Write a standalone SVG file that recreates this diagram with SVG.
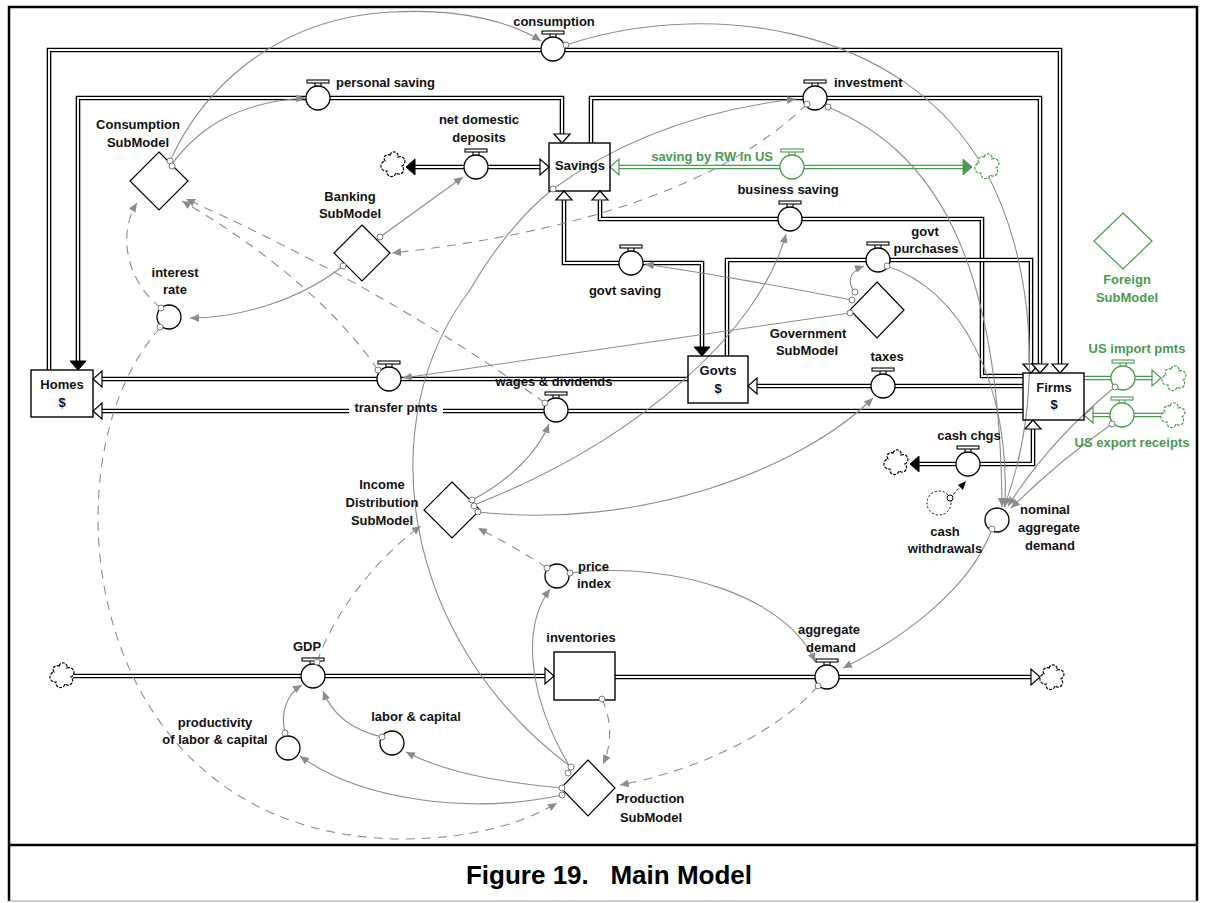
<svg xmlns="http://www.w3.org/2000/svg" xmlns:xlink="http://www.w3.org/1999/xlink" width="1206" height="903" viewBox="0 0 1206 903">
<style>
.lbl{font-family:"Liberation Sans",Arial,sans-serif;font-weight:bold;font-size:13px;fill:#111}
.grn{fill:#4a9a50}
.mid{text-anchor:middle}
.end{text-anchor:end}
.po{fill:none;stroke:#000;stroke-width:4.6;stroke-linejoin:miter;stroke-linecap:butt}
.pi{fill:none;stroke:#fff;stroke-width:1.9;stroke-linejoin:miter;stroke-linecap:butt}
.pog{fill:none;stroke:#4a9a50;stroke-width:4.6;stroke-linecap:butt}
.c{fill:none;stroke:#8c8c8c;stroke-width:1.1;marker-end:url(#ca)}
.d{fill:none;stroke:#8c8c8c;stroke-width:1.1;stroke-dasharray:9 7;marker-end:url(#ca)}
.o{fill:#fff;stroke:#7a7a7a;stroke-width:1}
.box{fill:none;stroke:#000;stroke-width:1.4}
.dia{fill:none;stroke:#000;stroke-width:1.2}
.diag{fill:none;stroke:#4a9a50;stroke-width:1.2}
.ahh{fill:#fff;stroke:currentColor;stroke-width:1.2}
.ahs{fill:currentColor;stroke:currentColor;stroke-width:1}
</style>
<defs>
<marker id="ca" markerUnits="userSpaceOnUse" markerWidth="10" markerHeight="8" refX="9" refY="4" orient="auto"><path d="M0,0 L9,4 L0,8 Z" fill="#8c8c8c"/></marker>
<path id="ah" d="M0,0 L-9,-8 L-9,8 Z"/>
<g id="valve">
<rect x="-11" y="-18" width="22" height="3" fill="#fff" stroke="currentColor" stroke-width="1.1"/>
<path d="M-3,-15 V-12 M3,-15 V-12" stroke="currentColor" stroke-width="1.1"/>
<circle r="12" fill="#fff" stroke="currentColor" stroke-width="1.3"/>
</g>
<path id="cloud" d="M-3,-9 A4,4 0 0 1 5,-7 A4,4 0 0 1 9,2 A4,4 0 0 1 3,9 A4,4 0 0 1 -6,7 A4,4 0 0 1 -8,-3 A4,4 0 0 1 -3,-9 Z" fill="#fff" stroke="currentColor" stroke-width="1.2" stroke-dasharray="3 1.2"/>
<path id="pp-cons" d="M49,370 V50 H1060 V364"/>
<path id="pp-pers" d="M78,361 V98 H562 V134"/>
<path id="pp-inv" d="M591,143 V98 H1040 V364"/>
<path id="pp-ndd" d="M415,167 H540"/>
<path id="pp-rw" d="M619,167 H963"/>
<path id="pp-bs" d="M1023,376 H982 V219 H600 V200"/>
<path id="pp-gs" d="M702,347 V263 H564 V200"/>
<path id="pp-gp" d="M727,356 V260 H1031 V364"/>
<path id="pp-tax" d="M1023,386 H757"/>
<path id="pp-tr" d="M688,379 H102"/>
<path id="pp-wd" d="M1023,411 H443 M349,411 H102"/>
<path id="pp-cash" d="M919,464 H1033 V429"/>
<path id="pp-imp" d="M1084,378 H1152"/>
<path id="pp-exp" d="M1162,415 H1093"/>
<path id="pp-gdp" d="M73,676 H545"/>
<path id="pp-ad" d="M615,677 H1031"/>
</defs>
<rect width="1206" height="903" fill="#fff"/>
<g id="frame">
<path d="M9,901 V7 H1197 V901" fill="none" stroke="#000" stroke-width="2.5"/>
<path d="M9,901 H1197" stroke="#999" stroke-width="1"/>
<path d="M9,845 H1197" stroke="#000" stroke-width="2.5"/>
<text x="609" y="884" text-anchor="middle" xml:space="preserve" style="font-family:'Liberation Sans',Arial,sans-serif;font-weight:bold;font-size:26px;fill:#000">Figure 19.   Main Model</text>
</g>
<g id="connectors">
<g id="pipes">
<use href="#pp-cons" class="po"/><use href="#pp-cons" class="pi"/>
<use href="#pp-pers" class="po"/><use href="#pp-pers" class="pi"/>
<use href="#pp-inv" class="po"/><use href="#pp-inv" class="pi"/>
<use href="#pp-ndd" class="po"/><use href="#pp-ndd" class="pi"/>
<use href="#pp-rw" class="pog"/><use href="#pp-rw" class="pi"/>
<use href="#pp-bs" class="po"/><use href="#pp-bs" class="pi"/>
<use href="#pp-gs" class="po"/><use href="#pp-gs" class="pi"/>
<use href="#pp-gp" class="po"/><use href="#pp-gp" class="pi"/>
<use href="#pp-tax" class="po"/><use href="#pp-tax" class="pi"/>
<use href="#pp-tr" class="po"/><use href="#pp-tr" class="pi"/>
<use href="#pp-wd" class="po"/><use href="#pp-wd" class="pi"/>
<use href="#pp-cash" class="po"/><use href="#pp-cash" class="pi"/>
<use href="#pp-imp" class="pog"/><use href="#pp-imp" class="pi"/>
<use href="#pp-exp" class="pog"/><use href="#pp-exp" class="pi"/>
<use href="#pp-gdp" class="po"/><use href="#pp-gdp" class="pi"/>
<use href="#pp-ad" class="po"/><use href="#pp-ad" class="pi"/>
</g>
<g id="pipe-arrows" style="color:#000">
<use href="#ah" class="ahh" transform="translate(562,143) rotate(90)"/>
<use href="#ah" class="ahh" transform="translate(1031,373) rotate(90)"/>
<use href="#ah" class="ahh" transform="translate(1040,373) rotate(90)"/>
<use href="#ah" class="ahh" transform="translate(1060,373) rotate(90)"/>
<use href="#ah" class="ahh" transform="translate(549,167)"/>
<use href="#ah" class="ahh" transform="translate(600,191) rotate(270)"/>
<use href="#ah" class="ahh" transform="translate(564,191) rotate(270)"/>
<use href="#ah" class="ahh" transform="translate(748,386) rotate(180)"/>
<use href="#ah" class="ahh" transform="translate(93,379) rotate(180)"/>
<use href="#ah" class="ahh" transform="translate(93,411) rotate(180)"/>
<use href="#ah" class="ahh" transform="translate(1033,420) rotate(270)"/>
<use href="#ah" class="ahh" transform="translate(554,676)"/>
<use href="#ah" class="ahh" transform="translate(1040,677)"/>
<use href="#ah" class="ahs" transform="translate(78,370) rotate(90)"/>
<use href="#ah" class="ahs" transform="translate(406,167) rotate(180)"/>
<use href="#ah" class="ahs" transform="translate(702,356) rotate(90)"/>
<use href="#ah" class="ahs" transform="translate(910,464) rotate(180)"/>
<g style="color:#4a9a50">
<use href="#ah" class="ahh" transform="translate(610,167) rotate(180)"/>
<use href="#ah" class="ahs" transform="translate(972,167)"/>
<use href="#ah" class="ahh" transform="translate(1161,378)"/>
<use href="#ah" class="ahh" transform="translate(1084,415) rotate(180)"/>
</g>
</g>
<g id="links">
<path class="c" d="M170,161 C200,95 270,18 392,12 C465,8 515,24 541,41"/>
<path class="c" d="M172,164 C200,126 240,102 305,98"/>
<path class="c" d="M566,45 C700,0 900,20 985,170 C1035,260 1045,400 1004,507"/>
<path class="c" d="M828,107 C930,150 1000,250 1002,507"/>
<path class="c" d="M887,266 C960,290 1010,380 1005,507"/>
<path class="c" d="M1115,387 Q1050,440 1008,506"/>
<path class="c" d="M1112,424 Q1060,460 1011,508"/>
<path class="c" d="M992,529 C970,590 900,640 843,668"/>
<path class="c" d="M570,573 C680,560 790,600 815,662"/>
<path class="c" d="M570,767 C530,700 520,630 550,589"/>
<path class="c" d="M571,767 C400,640 370,420 470,290 C490,255 520,215 553,189 C620,140 700,110 796,99"/>
<path class="c" d="M562,788 C510,783 450,775 406,752"/>
<path class="c" d="M562,795 C470,815 360,800 300,756"/>
<path class="c" d="M382,737 C352,730 332,714 323,691"/>
<path class="c" d="M285,733 C280,712 287,694 302,685"/>
<path class="c" d="M472,500 C510,480 538,452 549,424"/>
<path class="c" d="M474,505 C640,440 760,330 786,234"/>
<path class="c" d="M478,512 C640,530 800,470 873,398"/>
<path class="c" d="M855,292 C846,282 850,271 864,266"/>
<path class="c" d="M852,300 Q750,280 645,264"/>
<path class="c" d="M850,313 L403,378"/>
<path class="c" d="M380,237 L463,177"/>
<path class="c" d="M343,266 C300,300 240,318 190,318"/>
<path class="d" d="M161,308 C125,280 118,232 137,203"/>
<path class="d" d="M378,370 C330,300 250,240 182,201"/>
<path class="d" d="M545,403 C430,320 300,250 186,199"/>
<path class="d" d="M807,104 C720,190 560,235 392,253"/>
<path class="d" d="M160,328 C40,460 80,840 407,839 C470,838 520,825 557,803"/>
<path class="d" d="M317,662 C335,610 380,555 421,526"/>
<path class="d" d="M547,568 C520,550 500,540 478,528"/>
<path class="d" d="M602,699 C612,720 612,745 603,764"/>
<path class="d" d="M818,686 C780,730 700,770 620,785"/>
<path d="M950,498 L962,485" fill="none" stroke="#000" stroke-width="1" stroke-dasharray="3 2"/>
<path d="M958,485 L966,481 L963,490 Z" fill="#000"/>
</g>
</g>
<g id="n-homes"><rect class="box" x="31" y="370" width="62" height="47"/><text class="lbl mid" x="62" y="389">Homes</text><text class="lbl mid" x="62" y="407">$</text></g>
<g id="n-savings"><rect class="box" x="549" y="143" width="61" height="48"/><text class="lbl mid" x="580" y="170">Savings</text></g>
<g id="n-govts"><rect class="box" x="688" y="356" width="60" height="47"/><text class="lbl mid" x="718" y="375">Govts</text><text class="lbl mid" x="718" y="393">$</text></g>
<g id="n-firms"><rect class="box" x="1023" y="373" width="61" height="47"/><text class="lbl mid" x="1054" y="392">Firms</text><text class="lbl mid" x="1054" y="409">$</text></g>
<g id="n-inventories"><rect class="box" x="554" y="652" width="61" height="48"/><text class="lbl mid" x="581" y="642">inventories</text></g>
<g id="n-consumption-sub"><polygon class="dia" points="159,152 188,181 159,210 130,181"/><text class="lbl mid" x="138" y="129">Consumption</text><text class="lbl mid" x="138" y="147">SubModel</text></g>
<g id="n-banking-sub"><polygon class="dia" points="362,225 390,253 362,281 334,253"/><text class="lbl mid" x="350" y="201">Banking</text><text class="lbl mid" x="350" y="218">SubModel</text></g>
<g id="n-government-sub"><polygon class="dia" points="877,282 904,310 877,338 850,310"/><text class="lbl mid" x="808" y="338">Government</text><text class="lbl mid" x="807" y="355">SubModel</text></g>
<g id="n-foreign-sub"><polygon class="diag" points="1123,213 1152,241 1123,269 1094,241"/><text class="lbl mid grn" x="1127" y="284">Foreign</text><text class="lbl mid grn" x="1127" y="302">SubModel</text></g>
<g id="n-income-sub"><polygon class="dia" points="452,482 480,510 452,538 424,510"/><text class="lbl mid" x="382" y="489">Income</text><text class="lbl mid" x="382" y="507">Distribution</text><text class="lbl mid" x="382" y="525">SubModel</text></g>
<g id="n-production-sub"><polygon class="dia" points="588,760 615,788 588,816 561,788"/><text class="lbl mid" x="650" y="803">Production</text><text class="lbl mid" x="651" y="822">SubModel</text></g>
<g id="n-consumption" style="color:#000"><use href="#valve" x="553" y="49"/><text class="lbl mid" x="554" y="26">consumption</text></g>
<g id="n-personal-saving" style="color:#000"><use href="#valve" x="318" y="98"/><text class="lbl" x="336" y="87">personal saving</text></g>
<g id="n-net-domestic-deposits" style="color:#000"><use href="#cloud" x="393" y="164"/><use href="#valve" x="476" y="167"/><text class="lbl mid" x="479" y="124">net domestic</text><text class="lbl mid" x="479" y="142">deposits</text></g>
<g id="n-investment" style="color:#000"><use href="#valve" x="815" y="98"/><text class="lbl" x="834" y="87">investment</text></g>
<g id="n-saving-rw" style="color:#4a9a50"><use href="#valve" x="792" y="167"/><use href="#cloud" x="987" y="166"/><text class="lbl end grn" x="773" y="161">saving by RW in US</text></g>
<g id="n-business-saving" style="color:#000"><use href="#valve" x="790" y="219"/><text class="lbl mid" x="788" y="194">business saving</text></g>
<g id="n-govt-saving" style="color:#000"><use href="#valve" x="631" y="263"/><text class="lbl mid" x="625" y="295">govt saving</text></g>
<g id="n-govt-purchases" style="color:#000"><use href="#valve" x="878" y="260"/><text class="lbl mid" x="925" y="236">govt</text><text class="lbl mid" x="926" y="253">purchases</text></g>
<g id="n-taxes" style="color:#000"><use href="#valve" x="883" y="386"/><text class="lbl mid" x="887" y="361">taxes</text></g>
<g id="n-transfer-pmts" style="color:#000"><use href="#valve" x="389" y="379"/><text class="lbl mid" x="396" y="412">transfer pmts</text></g>
<g id="n-wages-dividends" style="color:#000"><use href="#valve" x="556" y="410"/><text class="lbl mid" x="554" y="386">wages &amp; dividends</text></g>
<g id="n-cash-chgs" style="color:#000"><use href="#cloud" x="896" y="462"/><use href="#valve" x="968" y="464"/><text class="lbl mid" x="969" y="440">cash chgs</text></g>
<g id="n-us-import" style="color:#4a9a50"><use href="#valve" x="1123" y="378"/><use href="#cloud" x="1174" y="378"/><text class="lbl mid grn" x="1137" y="353">US import pmts</text></g>
<g id="n-us-export" style="color:#4a9a50"><use href="#valve" x="1122" y="415"/><use href="#cloud" x="1173" y="415"/><text class="lbl mid grn" x="1132" y="447">US export receipts</text></g>
<g id="n-gdp" style="color:#000"><use href="#cloud" x="62" y="675"/><use href="#valve" x="313" y="676"/><text class="lbl mid" x="307" y="651">GDP</text></g>
<g id="n-aggregate-demand" style="color:#000"><use href="#valve" x="827" y="677"/><use href="#cloud" x="1052" y="677"/><text class="lbl mid" x="829" y="634">aggregate</text><text class="lbl mid" x="831" y="652">demand</text></g>
<g id="n-interest-rate"><circle cx="169" cy="317" r="12" fill="#fff" stroke="#000" stroke-width="1.3"/><text class="lbl mid" x="175" y="277">interest</text><text class="lbl mid" x="175" y="294">rate</text></g>
<g id="n-price-index"><circle cx="557" cy="576" r="12" fill="#fff" stroke="#000" stroke-width="1.3"/><text class="lbl" x="578" y="571">price</text><text class="lbl" x="577" y="588">index</text></g>
<g id="n-nominal-ad"><circle cx="997" cy="520" r="12" fill="#fff" stroke="#000" stroke-width="1.3"/><text class="lbl mid" x="1045" y="514">nominal</text><text class="lbl mid" x="1049" y="532">aggregate</text><text class="lbl mid" x="1050" y="550">demand</text></g>
<g id="n-cash-withdrawals"><circle cx="939" cy="503" r="12" fill="#fff" stroke="#000" stroke-width="1" stroke-dasharray="2 2"/><text class="lbl mid" x="945" y="536">cash</text><text class="lbl mid" x="945" y="553">withdrawals</text></g>
<g id="n-productivity"><circle cx="288" cy="748" r="12" fill="#fff" stroke="#000" stroke-width="1.3"/><text class="lbl mid" x="215" y="727">productivity</text><text class="lbl mid" x="215" y="744">of labor &amp; capital</text></g>
<g id="n-labor-capital"><circle cx="392" cy="743" r="12" fill="#fff" stroke="#000" stroke-width="1.3"/><text class="lbl mid" x="416" y="721">labor &amp; capital</text></g>
<g id="link-origins">
<circle class="o" cx="170" cy="161" r="3"/><circle class="o" cx="172" cy="166" r="3"/>
<circle class="o" cx="566" cy="45" r="3"/>
<circle class="o" cx="807" cy="104" r="3"/><circle class="o" cx="828" cy="107" r="3"/>
<circle class="o" cx="887" cy="266" r="3"/>
<circle class="o" cx="1115" cy="387" r="3"/><circle class="o" cx="1112" cy="424" r="3"/>
<circle class="o" cx="992" cy="529" r="3"/>
<circle class="o" cx="570" cy="573" r="3"/><circle class="o" cx="547" cy="568" r="3"/>
<circle class="o" cx="571" cy="767" r="3"/><circle class="o" cx="568" cy="773" r="3"/><circle class="o" cx="562" cy="788" r="3"/><circle class="o" cx="562" cy="795" r="3"/>
<circle class="o" cx="553" cy="189" r="3"/>
<circle class="o" cx="382" cy="737" r="3"/><circle class="o" cx="285" cy="733" r="3"/>
<circle class="o" cx="472" cy="500" r="3"/><circle class="o" cx="474" cy="506" r="3"/><circle class="o" cx="478" cy="512" r="3"/>
<circle class="o" cx="855" cy="292" r="3"/><circle class="o" cx="852" cy="300" r="3"/><circle class="o" cx="850" cy="313" r="3"/>
<circle class="o" cx="380" cy="237" r="3"/><circle class="o" cx="343" cy="266" r="3"/>
<circle class="o" cx="161" cy="308" r="3"/><circle class="o" cx="160" cy="327" r="3"/>
<circle class="o" cx="378" cy="370" r="3"/><circle class="o" cx="545" cy="403" r="3"/>
<circle class="o" cx="317" cy="662" r="3"/><circle class="o" cx="602" cy="699" r="3"/><circle class="o" cx="818" cy="686" r="3"/>
<circle cx="950" cy="498" r="3" fill="#fff" stroke="#000" stroke-width="1"/>
</g>
</svg>
